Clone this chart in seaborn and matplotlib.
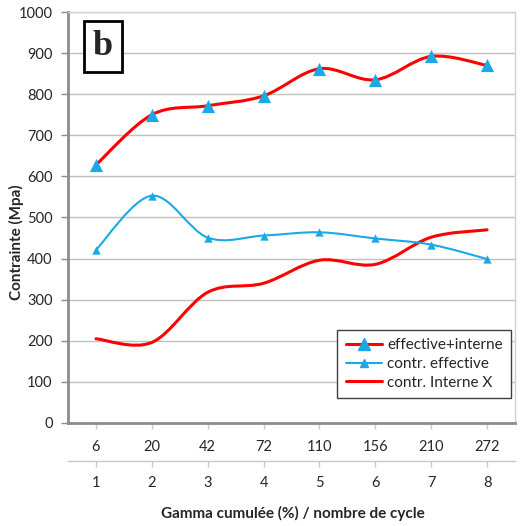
import numpy as np
import matplotlib
matplotlib.use("Agg")
import matplotlib.pyplot as plt
import seaborn as sns
from matplotlib.lines import Line2D
from matplotlib.path import Path
from matplotlib.patches import PathPatch


# chart values
cycles = [1, 2, 3, 4, 5, 6, 7, 8]
gamma_labels = ["6", "20", "42", "72", "110", "156", "210", "272"]
effective_interne = [628, 750, 772, 796, 862, 835, 892, 870]
contr_effective = [421, 553, 451, 456, 464, 449, 434, 399]
contr_interne_x = [205, 196, 318, 340, 396, 386, 452, 470]

RED = "#ff0000"
BLUE = "#1aa9e6"
GRID = "#bfbfbf"
AXIS = "#8c8c8c"
TEXT = "#262626"


def smooth_path(xs, ys):
    # Excel-like smoothed line: cubic Bezier through every point
    pts = np.column_stack([xs, ys]).astype(float)
    padded = np.vstack([pts[0], pts, pts[-1]])
    verts = [pts[0]]
    codes = [Path.MOVETO]
    for i in range(len(pts) - 1):
        p0, p1, p2, p3 = padded[i], padded[i + 1], padded[i + 2], padded[i + 3]
        c1 = p1 + (p2 - p0) / 6.0
        c2 = p2 - (p3 - p1) / 6.0
        verts += [c1, c2, p2]
        codes += [Path.CURVE4] * 3
    return Path(verts, codes)


def draw_series(ax, ys, color, lw, marker_size=None, zorder=3):
    ax.add_patch(PathPatch(smooth_path(cycles, ys), fill=False, edgecolor=color,
                           lw=lw, capstyle="round", joinstyle="round", zorder=zorder))
    if marker_size:
        sns.scatterplot(x=cycles, y=ys, marker="^", s=marker_size, color=BLUE,
                        edgecolor=BLUE, linewidth=0, ax=ax, zorder=zorder + 1, legend=False)


def main() -> None:
    sns.set_style("white")
    plt.rcParams["font.family"] = ["Lato", "DejaVu Sans"]

    fig = plt.figure(figsize=(5.22, 5.26), dpi=100)
    ax = fig.add_axes([68 / 522, 103 / 526, 447 / 522, 411 / 526])

    draw_series(ax, contr_interne_x, RED, 2.2)
    draw_series(ax, contr_effective, BLUE, 1.5, marker_size=36)
    draw_series(ax, effective_interne, RED, 2.2, marker_size=90, zorder=5)

    ax.set_xlim(0.5, 8.5)
    ax.set_ylim(0, 1000)
    ax.set_yticks(np.arange(0, 1001, 100))
    ax.yaxis.grid(True, color=GRID, lw=1)
    ax.set_axisbelow(True)

    for side in ["top", "right"]:
        ax.spines[side].set_color("#d0d0d0")
        ax.spines[side].set_linewidth(1)
    for side in ["left", "bottom"]:
        ax.spines[side].set_color(AXIS)
        ax.spines[side].set_linewidth(2)

    ax.tick_params(axis="y", direction="out", length=5, width=1, color=AXIS,
                   labelsize=10.5, labelcolor=TEXT, pad=6, left=True)
    ax.set_xticks(cycles, labels=gamma_labels)
    ax.tick_params(axis="x", direction="out", length=4, width=1, color="#c8c8c8",
                   labelsize=10.5, labelcolor=TEXT, pad=8, bottom=True)

    # second category row (cycle number) under the gamma row
    sec = ax.secondary_xaxis(-38 / 411)
    sec.set_xticks(cycles, labels=[str(c) for c in cycles])
    sec.spines["bottom"].set_color("#c8c8c8")
    sec.spines["bottom"].set_linewidth(1)
    sec.tick_params(axis="x", direction="out", length=4, width=1, color="#c8c8c8",
                    labelsize=10.5, labelcolor=TEXT, pad=7)

    fig.text(293 / 522, 1 - 513 / 526, "Gamma cumulée (%) / nombre de cycle",
             ha="center", va="center", fontsize=11, fontweight="bold")
    fig.text(16 / 522, 1 - 242 / 526, "Contrainte (Mpa)", rotation=90,
             ha="center", va="center", fontsize=11, fontweight="bold")

    ax.text(0.078, 0.917, "b", transform=ax.transAxes, ha="center", va="center",
            fontsize=26, fontweight="bold", family="Liberation Serif",
            bbox=dict(boxstyle="square,pad=0.25", facecolor="white",
                      edgecolor="black", linewidth=2), zorder=10)

    handles = [
        Line2D([], [], color=RED, lw=2.2, marker="^", ms=9, mfc=BLUE, mec=BLUE),
        Line2D([], [], color=BLUE, lw=1.5, marker="^", ms=6, mfc=BLUE, mec=BLUE),
        Line2D([], [], color=RED, lw=2.2),
    ]
    labels = ["effective+interne", "contr. effective", "contr. Interne X"]
    leg = ax.legend(handles, labels, loc="lower right", bbox_to_anchor=(0.991, 0.061),
                    borderaxespad=0, fontsize=11, frameon=True, fancybox=False,
                    framealpha=1, edgecolor="#404040", handlelength=2.4,
                    borderpad=0.55, labelspacing=0.3, handletextpad=0.3)
    leg.get_frame().set_linewidth(1)

    fig.savefig("out.png", dpi=100)


if __name__ == "__main__":
    main()
